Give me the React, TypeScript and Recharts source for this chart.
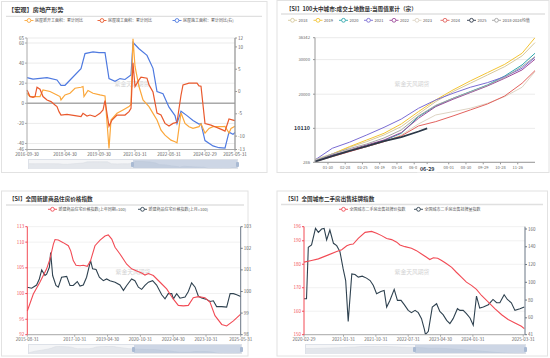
import React from "react";
import { LineChart, Line, AreaChart, Area, XAxis, YAxis, CartesianGrid, ReferenceLine } from "recharts";

type Pt = [number, number];

const FONT = '"Noto Sans CJK SC", "Noto Sans", sans-serif';

// ---------- panel 1: 【宏观】房地产形势 (x = months since 2016-09) ----------
const p1Title = "【宏观】房地产形势";
const p1Names = ["房屋新开工面积：累计同比", "房屋竣工面积：累计同比", "房屋施工面积：累计同比(右)"];
const p1TickMonths = [0, 19, 36, 54, 71, 89, 104];
const p1TickLabels = ["2016-09-30", "2018-04-30", "2019-09-30", "2021-03-31", "2022-08-31", "2024-02-29", "2025-05-31"];
const p1LeftTicks = [-46, -40, -20, 0, 20, 40, 60, 65];
const p1RightTicks = [-13, -10, -5, 0, 5, 10, 12];
const p1NewStart: Pt[] = [
  [0, 10], [1.5, 6.7], [6.5, 6.7], [8, 13.3], [11.5, 11.7], [15, 8.3], [16.5, 6.7], [17, 3.3], [19, 8.3],
  [21.5, 10], [24, 15], [27, 16], [28, 16.7], [28.5, 6.7], [30.5, 12.7], [33, 10], [36.5, 8.3], [39, 7.3],
  [41, -44.9], [42, -16.7], [45, -10], [48, -6.7], [51, -3.3], [52, -1.2], [53, 64.3], [54, 36.7], [56, 16.7],
  [58, 3.3], [61, -3.3], [63, -10], [65, -16.7], [67, -26.7], [69, -31.7], [72, -36.7], [74, -38.3], [75, -39.4],
  [77, -9.4], [79, -20], [81, -23.3], [83, -25], [86, -23.3], [87, -20.4], [89, -29.7], [91, -25], [93, -23.3],
  [98, -23.3], [99, -23], [101, -29.6], [102, -25], [104, -22.8],
];
const p1Completed: Pt[] = [
  [0, 13.3], [1.5, 6.7], [3, 6], [4, 6.7], [5, 16], [6.5, 14], [8, 6.7], [10, 3.3], [12, 1.7], [14, -1.7],
  [15, -3.3], [16, -8.3], [17, -11.7], [20, -11], [24, -12.3], [27, -13.3], [28, -10], [30, -12.7], [31.5, -11.7],
  [34, -13.3], [36.5, -10], [38, -6.7], [39, 2.6], [41, -22.9], [42.5, -16.7], [45, -11.7], [49, -11.7], [51, -8.3],
  [52, -4.9], [53, 40.4], [54, 16.7], [56, 23.3], [57, 26], [60, 25], [61, 18.3], [63, 11.2], [65, -9.8],
  [67, -11.7], [69, -20], [71, -22.7], [73, -20], [75, -19], [77, 8], [78, 18.3], [81, 20], [85, 20], [86, 17.3],
  [87, 17], [89, -20.2], [92, -21.7], [94, -23.3], [96, -25], [98, -26.7], [99, -27.7], [101, -15.6], [103, -16.7],
  [104, -17.3],
];
const p1UnderConstruction: Pt[] = [
  [0, 3.1], [3, 2.8], [10, 3.1], [15, 2.6], [17, 1.4], [19, 1.4], [27, 5.1], [29, 8.5], [33, 8.9], [36, 8.7],
  [39, 8.7], [41, 2.9], [44, 2.3], [46.5, 2.9], [49, 2.7], [52, 3.7], [53, 11], [56, 9.6], [60, 8.1], [63, 5.2],
  [65, 0], [68, -0.5], [71, -3.5], [74, -5.4], [75, -7.2], [77, -4.4], [80, -5.4], [83, -6.5], [86, -7.3],
  [87, -7.2], [89, -11], [93, -12.2], [96, -12.6], [99, -12.7], [101, -9.1], [103, -9.6], [104, -9.2],
];

// ---------- panel 2: 100大中城市 成交土地数量 当周值累计 (x = week index) ----------
const p2Title = "【SI】100大中城市:成交土地数量:当周值累计（宗）";
const p2Names = ["2018", "2019", "2020", "2021", "2022", "2023", "2024", "2025", "2018-2024均值"];
const p2TickIdx = [3, 7, 11, 15, 19, 23, 31, 35, 39, 43, 47, 26];
const p2TickLabels = ["01-30", "02-28", "03-25", "04-19", "05-14", "06-08", "08-01", "08-30", "09-29", "10-28", "11-26", "06-29"];
const p2PointerIdx = 26;
const p2YTicks = [286, 10110, 20000, 30000, 36342];
const p2SampleIdx = [0, 4, 8, 12, 16, 20, 24, 28, 32, 36, 40, 44, 48, 51];
const p2Y2018 = [1155, 2699, 4629, 6269, 8199, 10612, 14279, 17849, 20744, 23156, 25569, 27982, 31070, 34930];
const p2Y2019 = [769, 2699, 4822, 6752, 8682, 11384, 14954, 18332, 21226, 23832, 26245, 28657, 31842, 36342];
const p2Y2020 = [769, 2409, 3664, 4822, 6559, 8682, 13507, 16595, 18814, 20744, 22674, 25280, 28464, 31842];
const p2Y2021 = [962, 4339, 6100, 8200, 10400, 12800, 15919, 18332, 20262, 21998, 23350, 25087, 27499, 30684];
const p2Y2022 = [576, 2409, 3857, 5304, 6752, 8875, 13024, 16402, 18525, 20455, 22384, 24604, 27017, 30105];
const p2Y2023 = [962, 2699, 3857, 4822, 6269, 8199, 11384, 13989, 14954, 15919, 17367, 19297, 21998, 26534];
const p2Y2024 = [479, 1927, 3374, 4822, 6269, 7910, 10805, 12059, 13700, 15436, 17174, 19490, 23156, 26824];
const p2YMean = [769, 2699, 4243, 5594, 7331, 9647, 13700, 16788, 18814, 20648, 22577, 24894, 27982, 30877];
const p2Idx2025 = [0, 4, 8, 12, 16, 20, 24, 26];
const p2Y2025 = [480, 2100, 3600, 5000, 6400, 7600, 9200, 10110];

// ---------- panel 3: 全国新建商品住房价格指数 (x = months since 2015-08) ----------
const p3Title = "【SI】全国新建商品住房价格指数";
const p3Names = ["新建商品住宅价格指数(上年同期=100)", "新建商品住宅价格指数(上月=100)"];
const p3TickMonths = [0, 26, 44, 62, 80, 98, 117];
const p3TickLabels = ["2015-08-31", "2017-10-31", "2019-04-30", "2020-10-31", "2022-04-30", "2023-10-31", "2025-05-31"];
const p3LeftTicks = [92, 95, 100, 105, 110, 113];
const p3RightTicks = [98, 99, 100, 101, 102, 103];
const p3YoY: Pt[] = [
  [0, 96.6], [3.3, 99.9], [6.9, 102.2], [10.6, 104.8], [12.4, 106.7], [14.3, 109.6], [15.2, 110.5], [17, 110.4],
  [19.7, 109.9], [22.5, 109.3], [23.8, 108.3], [25.2, 106.4], [26.7, 105.5], [28.9, 105.4], [30.7, 105.5],
  [32.9, 105.3], [34.7, 106.4], [37.1, 109.3], [39.9, 110.4], [42.6, 111.2], [44.4, 111.4], [46.3, 110.6],
  [48.1, 109], [50.8, 107.7], [54.5, 105.7], [57.2, 104.8], [60, 104.4], [62.7, 104], [64.5, 103.6], [66.4, 103.9],
  [69.1, 103.5], [72.8, 102.2], [76.4, 100.9], [80.1, 98.9], [82.8, 97.7], [85.6, 97.6], [88.3, 97.7], [91, 99.2],
  [93.8, 99.4], [97.4, 99.2], [100.2, 98.3], [102.9, 95.7], [106.6, 94], [109.3, 93.7], [113, 94.7], [117, 96],
];
const p3MoM: Pt[] = [
  [0, 100.2], [2.4, 100.15], [5.1, 100.3], [6.6, 100.58], [7.9, 101.0], [9.7, 100.74], [10.6, 100.8], [12.1, 101.12],
  [12.8, 101.8], [13.9, 100.74], [15.7, 100.28], [17, 100.2], [18.8, 100.66], [21.6, 100.7], [23.4, 100.28],
  [25.2, 100.28], [27.4, 100.46], [28.9, 100.25], [30.7, 100.3], [32.5, 100.66], [34.7, 101.43], [35.8, 101.05],
  [37.7, 101.02], [39.5, 100.66], [41.7, 100.5], [43.5, 100.58], [45.3, 100.5], [48.1, 100.43], [50.8, 100.3],
  [52.7, 100.05], [54.5, 100.28], [57.2, 100.58], [59, 100.5], [60.9, 100.2], [62.7, 100.1], [64.5, 100.28],
  [66.4, 100.43], [68.7, 100.5], [70.9, 100.3], [73.7, 99.85], [75.5, 99.66], [77.3, 99.9], [79.2, 99.9],
  [80.1, 99.66], [81.9, 99.9], [83.7, 99.69], [86.5, 99.74], [88.3, 100], [90.1, 100.4], [92, 100.2], [93.8, 99.78],
  [95.6, 99.7], [98.4, 99.63], [100.2, 99.54], [102, 99.57], [103.8, 99.3], [106.6, 99.3], [109.3, 99.28],
  [111.2, 99.9], [113, 99.9], [114.8, 99.85], [117, 99.77],
];

// ---------- panel 4: 全国城市二手房出售 (x = months since 2020-02) ----------
const p4Title = "【SI】全国城市二手房出售挂牌指数";
const p4Names = ["全国城市二手房出售挂牌价指数", "全国城市二手房出售挂牌量指数"];
const p4TickMonths = [0, 11, 20, 29, 38, 47, 61];
const p4TickLabels = ["2020-02-29", "2021-01-31", "2021-10-31", "2022-07-31", "2023-04-30", "2024-01-31", "2025-03-31"];
const p4LeftTicks = [150, 160, 170, 180, 190, 196];
const p4RightTicks = [41, 60, 80, 100, 120, 140, 160];
const p4Price: Pt[] = [
  [0, 180.9], [2.1, 181.6], [4, 182.3], [6.8, 184], [9.1, 185.4], [10.5, 186.2], [11.9, 187.9], [12.8, 188.4],
  [13.7, 188.6], [15.1, 191], [17, 193.6], [18.8, 194], [20.2, 193.2], [21.6, 192.2], [23, 191], [24.4, 190.5],
  [25.8, 189.4], [26.7, 188.2], [28.1, 187.5], [29.9, 186.8], [31.3, 185.8], [32.7, 184.4], [34.1, 183], [35, 182],
  [36, 182.8], [37.2, 182.6], [38.3, 181.6], [39.7, 180.2], [41.1, 178.7], [42.4, 176.6], [43.8, 174.5],
  [45.2, 172.4], [46.6, 171], [48, 169.3], [49.4, 166.7], [51.3, 163.9], [53.1, 161.1], [55, 158.5], [56.8, 156.5],
  [58.7, 155], [60.5, 153.6], [61.3, 152.6],
];
const p4Volume: Pt[] = [
  [0, 81.5], [0.7, 81.5], [1.2, 139.4], [2.1, 142], [3.2, 160.7], [4, 156.3], [4.9, 160], [5.6, 160.7], [6.3, 147.7],
  [7.2, 158.9], [8.2, 143.9], [9.1, 141.3], [10, 134.6], [10.9, 115.1], [11.6, 102], [12.3, 56], [13.3, 109.5],
  [14.2, 108.8], [15.1, 105.8], [16.2, 106.9], [17.4, 104.7], [18.4, 102], [19.3, 96.4], [20.2, 87.1], [21.4, 89.7],
  [22.3, 90.8], [23, 72.1], [23.9, 79.6], [25.1, 92], [26, 79.6], [27, 79.6], [27.9, 74.8], [29, 68.4], [29.9, 65.8],
  [30.9, 68.4], [31.8, 65.8], [32.7, 59.1], [33.5, 47.1], [33.8, 41.1], [34.6, 44.9], [35.7, 72.1], [36.9, 75.9],
  [37.8, 67.3], [38.7, 63.6], [39.7, 57.2], [40.6, 53.5], [41.5, 59.1], [42.7, 70.3], [43.4, 68.4], [44.3, 68.4],
  [45.2, 64.7], [46.2, 59.8], [47.1, 51.6], [48, 84.5], [48.9, 71], [49.9, 72.1], [51.3, 74.8], [52.6, 80.7],
  [53.6, 77], [54.5, 77], [55.7, 86], [56.6, 80.7], [57.7, 77], [58.7, 68.4], [60.1, 70.3], [61.3, 72.1],
];

const watermark = "紫金天风期货";

const toXY = (pts: Pt[]) => pts.map(([x, y]) => ({ x, y }));
const zipXY = (xs: number[], ys: number[]) => xs.map((x, i) => ({ x, y: ys[i] }));

const P1_COLORS = ["#fba73b", "#e9592d", "#4f7ae0"];
const P2_COLORS = ["#d6c89c", "#f3c433", "#2ea6ab", "#7a6cd3", "#9c4a9a", "#ddd4c4", "#e2625e", "#2c3848", "#a3a3a3"];
const P3_COLORS = ["#f24b55", "#2f4250"];
const P4_COLORS = ["#f24b55", "#2f4250"];

const tickP1 = { fontSize: 4.6, fill: "#666" };
const tick45 = { fontSize: 4.5, fill: "#666" };

function LegendItem({ x, y, color, text, fs = 4.2 }: { x: number; y: number; color: string; text: string; fs?: number }) {
  return (
    <g>
      <line x1={x - 4.5} x2={x + 4.5} y1={y} y2={y} stroke={color} strokeWidth={0.9} />
      <circle cx={x} cy={y} r={1.9} fill="#fff" stroke={color} strokeWidth={0.9} />
      <text x={x + 6} y={y + 1.5} fontSize={fs} fill="#555">{text}</text>
    </g>
  );
}

function Decor() {
  const p2Icons = [292.5, 318, 343.5, 368.5, 394, 417, 445, 471.5, 496.5];
  return (
    <svg width={550} height={358} style={{ position: "absolute", left: 0, top: 0 }} fontFamily={FONT}>
      {/* frames */}
      <rect x={1.5} y={1.5} width={265.5} height={171} fill="none" stroke="#e2e2e2" />
      <rect x={277} y={0.5} width={272} height={172} fill="none" stroke="#e2e2e2" />
      <rect x={1.5} y={191} width={246.5} height={165} fill="none" stroke="#e2e2e2" />
      <rect x={277} y={191} width={270.5} height={165} fill="none" stroke="#e2e2e2" />
      {/* titles */}
      <text x={8} y={12.3} fontSize={6.2} fontWeight={700} fill="#333">{p1Title}</text>
      <line x1={6} x2={262} y1={16.3} y2={16.3} stroke="#e0e0e0" strokeWidth={1.3} />
      <text x={286} y={10.5} fontSize={5.6} fontWeight={700} fill="#333">{p2Title}</text>
      <line x1={281} x2={545} y1={14} y2={14} stroke="#e0e0e0" strokeWidth={1.3} />
      <text x={9} y={201.2} fontSize={5.6} fontWeight={700} fill="#333">{p3Title}</text>
      <line x1={6} x2={244} y1={205} y2={205} stroke="#e0e0e0" strokeWidth={1.3} />
      <text x={285} y={200.8} fontSize={5.6} fontWeight={700} fill="#333">{p4Title}</text>
      <line x1={281} x2={543} y1={204.5} y2={204.5} stroke="#e0e0e0" strokeWidth={1.3} />
      {/* legends */}
      {[29, 102, 177].map((x, i) => (
        <LegendItem key={i} x={x} y={20.5} color={P1_COLORS[i]} text={p1Names[i]} fs={4} />
      ))}
      {p2Icons.map((x, i) => (
        <LegendItem key={i} x={x} y={20.3} color={P2_COLORS[i]} text={p2Names[i]} fs={4} />
      ))}
      {[52.5, 142.5].map((x, i) => (
        <LegendItem key={i} x={x} y={209.3} color={P3_COLORS[i]} text={p3Names[i]} fs={4} />
      ))}
      {[343.5, 418.5].map((x, i) => (
        <LegendItem key={i} x={x} y={209.3} color={P4_COLORS[i]} text={p4Names[i]} fs={4} />
      ))}
      {/* watermarks */}
      {[[132, 86], [412, 86], [133, 274], [412, 274]].map(([x, y], i) => (
        <text key={i} x={x} y={y} fontSize={5.8} fill="#d3d3d3" textAnchor="middle">{watermark}</text>
      ))}
    </svg>
  );
}

function Slider({ left, top, width, height, from, pts, xMax }: {
  left: number; top: number; width: number; height: number; from: number; pts: Pt[]; xMax: number;
}) {
  const sx = from * width;
  return (
    <div style={{ position: "absolute", left, top, width, height, background: "#f4f5f7", border: "0.6px solid #dde1e8", boxSizing: "border-box" }}>
      <div style={{ position: "absolute", left: 0, top: 1 }}>
        <AreaChart width={width - 1} height={height - 2} data={toXY(pts)} margin={{ top: 0, right: 0, bottom: 0, left: 0 }}>
          <XAxis hide type="number" dataKey="x" domain={[0, xMax]} />
          <YAxis hide domain={["dataMin", "dataMax"]} />
          <Area dataKey="y" baseValue="dataMin" stroke="#d6dae1" strokeWidth={0.5} fill="#e4e7ec" fillOpacity={1} dot={false} activeDot={false} isAnimationActive={false} />
        </AreaChart>
      </div>
      <div style={{ position: "absolute", left: sx, right: 0, top: 0, bottom: 0, background: "rgba(150,172,205,0.42)" }} />
      <div style={{ position: "absolute", left: sx - 1.5, top: 2, width: 3, height: height - 5, background: "#a9bad3", borderRadius: 1 }} />
      <div style={{ position: "absolute", left: width - 3.5, top: 2, width: 3, height: height - 5, background: "#a9bad3", borderRadius: 1 }} />
    </div>
  );
}

function Panel1() {
  const lbl = (v: number) => p1TickLabels[p1TickMonths.indexOf(v)] ?? "";
  return (
    <LineChart width={267} height={175} margin={{ top: 38, right: 0, bottom: 5.5, left: 0 }}>
      <CartesianGrid yAxisId="left" vertical={false} stroke="#ebebeb" />
      <XAxis type="number" dataKey="x" domain={[0, 104]} ticks={p1TickMonths} tickFormatter={lbl} interval={0}
        height={20} tick={tickP1} tickSize={2} tickMargin={1.5} axisLine={{ stroke: "#aaa" }} tickLine={{ stroke: "#aaa" }} />
      <YAxis yAxisId="left" domain={[-46, 65]} ticks={p1LeftTicks} interval={0} width={27} tick={tickP1}
        tickSize={2} tickMargin={1} axisLine={{ stroke: "#aaa" }} tickLine={{ stroke: "#aaa" }} allowDataOverflow />
      <YAxis yAxisId="right" orientation="right" domain={[-13, 12]} ticks={p1RightTicks} interval={0} width={32}
        tick={tickP1} tickSize={2} tickMargin={1} axisLine={{ stroke: "#999", strokeWidth: 1.3 }} tickLine={{ stroke: "#999" }} allowDataOverflow />
      <ReferenceLine yAxisId="left" y={0} stroke="#aaa" strokeWidth={1.4} />
      <Line yAxisId="right" data={toXY(p1UnderConstruction)} dataKey="y" stroke={P1_COLORS[2]} strokeWidth={1.2} dot={false} activeDot={false} isAnimationActive={false} />
      <Line yAxisId="left" data={toXY(p1NewStart)} dataKey="y" stroke={P1_COLORS[0]} strokeWidth={1.2} dot={false} activeDot={false} isAnimationActive={false} />
      <Line yAxisId="left" data={toXY(p1Completed)} dataKey="y" stroke={P1_COLORS[1]} strokeWidth={1.2} dot={false} activeDot={false} isAnimationActive={false} />
    </LineChart>
  );
}

function P2XTick(props: any) {
  const { x, y, payload } = props;
  const label = p2TickLabels[p2TickIdx.indexOf(payload.value)] ?? "";
  if (payload.value === p2PointerIdx) {
    return (
      <g>
        <rect x={x - 10} y={y} width={20} height={8} fill="#fff" />
        <text x={x} y={y + 6.2} textAnchor="middle" fontSize={5.3} fontWeight={700} fill="#2c3848">{label}</text>
      </g>
    );
  }
  return <text x={x} y={y + 5} textAnchor="middle" fontSize={4} fill="#666">{label}</text>;
}

function P2YTick(props: any) {
  const { x, y, payload } = props;
  if (payload.value === 10110) {
    return (
      <g>
        <rect x={x - 17} y={y - 4} width={17} height={8} fill="#fff" />
        <text x={x - 1} y={y + 2} textAnchor="end" fontSize={5.4} fontWeight={700} fill="#2c3848">{payload.value}</text>
      </g>
    );
  }
  return <text x={x - 1} y={y + 1.5} textAnchor="end" fontSize={4.2} fill="#666">{payload.value}</text>;
}

function Panel2() {
  const years = [p2Y2018, p2Y2019, p2Y2020, p2Y2021, p2Y2022, p2Y2023, p2Y2024];
  return (
    <LineChart width={275} height={180} margin={{ top: 37.7, right: 15, bottom: 5.7, left: 0 }}>
      <CartesianGrid vertical={false} stroke="#ebebeb" />
      <XAxis type="number" dataKey="x" domain={[0, 51]} ticks={p2TickIdx} interval={0} height={12} tick={<P2XTick />}
        tickSize={2} tickMargin={0} axisLine={{ stroke: "#999" }} tickLine={{ stroke: "#999" }} />
      <YAxis domain={[286, 36342]} ticks={p2YTicks} interval={0} width={40} tick={<P2YTick />} tickSize={2}
        axisLine={{ stroke: "#999" }} tickLine={{ stroke: "#999" }} allowDataOverflow />
      {years.map((ys, i) => (
        <Line key={p2Names[i]} data={zipXY(p2SampleIdx, ys)} dataKey="y" stroke={P2_COLORS[i]} strokeWidth={1}
          dot={false} activeDot={false} isAnimationActive={false} />
      ))}
      <Line data={zipXY(p2SampleIdx, p2YMean)} dataKey="y" stroke={P2_COLORS[8]} strokeWidth={1} dot={false} activeDot={false} isAnimationActive={false} />
      <Line data={zipXY(p2Idx2025, p2Y2025)} dataKey="y" stroke={P2_COLORS[7]} strokeWidth={1.8} dot={false} activeDot={false} isAnimationActive={false} />
    </LineChart>
  );
}

function Panel3() {
  const lbl = (v: number) => p3TickLabels[p3TickMonths.indexOf(v)] ?? "";
  return (
    <LineChart width={262} height={170} margin={{ top: 46.7, right: 0, bottom: 3.3, left: 0 }}>
      <CartesianGrid yAxisId="left" vertical={false} stroke="#f1f1f1" />
      <XAxis type="number" dataKey="x" domain={[0, 117]} ticks={p3TickMonths} tickFormatter={lbl} interval={0}
        height={12} tick={tick45} tickSize={2} tickMargin={1} axisLine={{ stroke: "#aaa" }} tickLine={{ stroke: "#aaa" }} />
      <YAxis yAxisId="left" domain={[92, 113]} ticks={p3LeftTicks} interval={0} width={27.3}
        tick={{ fontSize: 4.5, fill: "#f24b55" }} tickSize={2} tickMargin={1} axisLine={{ stroke: "#f24b55" }} tickLine={{ stroke: "#f24b55" }} allowDataOverflow />
      <YAxis yAxisId="right" orientation="right" domain={[98, 103]} ticks={p3RightTicks} interval={0} width={21.3}
        tick={tick45} tickSize={2} tickMargin={1} axisLine={{ stroke: "#6b7785" }} tickLine={{ stroke: "#6b7785" }} allowDataOverflow />
      <Line yAxisId="right" data={toXY(p3MoM)} dataKey="y" stroke={P3_COLORS[1]} strokeWidth={1.1} dot={false} activeDot={false} isAnimationActive={false} />
      <Line yAxisId="left" data={toXY(p3YoY)} dataKey="y" stroke={P3_COLORS[0]} strokeWidth={1.1} dot={false} activeDot={false} isAnimationActive={false} />
    </LineChart>
  );
}

function Panel4() {
  const lbl = (v: number) => p4TickLabels[p4TickMonths.indexOf(v)] ?? "";
  return (
    <LineChart width={275} height={170} margin={{ top: 46.7, right: 0, bottom: 3.3, left: 0 }}>
      <CartesianGrid yAxisId="left" vertical={false} stroke="#f1f1f1" />
      <XAxis type="number" dataKey="x" domain={[0, 61.5]} ticks={p4TickMonths} tickFormatter={lbl} interval={0}
        height={12} tick={tick45} tickSize={2} tickMargin={1} axisLine={{ stroke: "#aaa" }} tickLine={{ stroke: "#aaa" }} />
      <YAxis yAxisId="left" domain={[150, 196]} ticks={p4LeftTicks} interval={0} width={29}
        tick={{ fontSize: 4.5, fill: "#f24b55" }} tickSize={2} tickMargin={1} axisLine={{ stroke: "#f24b55" }} tickLine={{ stroke: "#f24b55" }} allowDataOverflow />
      <YAxis yAxisId="right" orientation="right" domain={[41, 162.6]} ticks={p4RightTicks} interval={0} width={25}
        tick={tick45} tickSize={2} tickMargin={1} axisLine={{ stroke: "#6b7785" }} tickLine={{ stroke: "#6b7785" }} allowDataOverflow />
      <Line yAxisId="right" data={toXY(p4Volume)} dataKey="y" stroke={P4_COLORS[1]} strokeWidth={1.1} dot={false} activeDot={false} isAnimationActive={false} />
      <Line yAxisId="left" data={toXY(p4Price)} dataKey="y" stroke={P4_COLORS[0]} strokeWidth={1.1} dot={false} activeDot={false} isAnimationActive={false} />
    </LineChart>
  );
}

export default function App() {
  return (
    <div style={{ position: "absolute", left: 0, top: 0, width: 550, height: 358, background: "#fff", overflow: "hidden", fontFamily: FONT }}>
      <Decor />
      <div style={{ position: "absolute", left: 0, top: 0 }}><Panel1 /></div>
      <div style={{ position: "absolute", left: 275, top: 0 }}><Panel2 /></div>
      <div style={{ position: "absolute", left: 0, top: 180 }}><Panel3 /></div>
      <div style={{ position: "absolute", left: 275, top: 180 }}><Panel4 /></div>
      <Slider left={28} top={159} width={210} height={10} from={0.494} pts={p1UnderConstruction} xMax={104} />
      <Slider left={28} top={344} width={214} height={10} from={0.49} pts={p3YoY} xMax={117} />
      <Slider left={305} top={344} width={221} height={10} from={0.493} pts={p4Price} xMax={61.5} />
    </div>
  );
}
